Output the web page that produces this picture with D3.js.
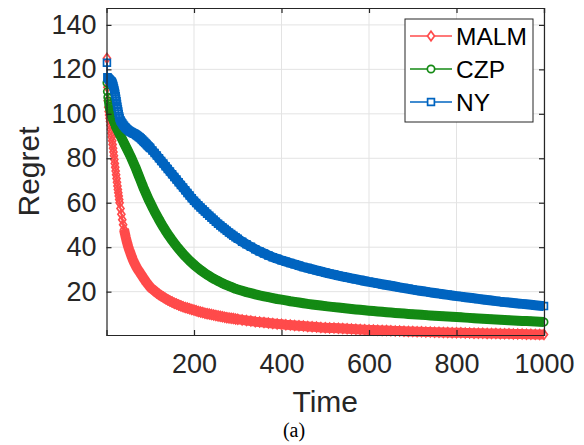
<!DOCTYPE html>
<html><head><meta charset="utf-8">
<script src="https://cdn.jsdelivr.net/npm/d3@7"></script>
<style>body{margin:0;background:#fff}svg{display:block}text{font-family:"Liberation Sans",Arial,sans-serif;fill:#262626}</style>
</head><body><svg id="c" width="584" height="445"></svg>
<script>
const time = [1,2,3,4,5,6,7,8,9,10,11,12,13,14,15,16,17,18,19,20,21,22,23,24,25,26,27,28,29,30,
32,34,36,38,40,42,44,46,48,50,52,54,56,58,60,62,64,66,68,70,72,74,76,78,80,82,84,86,88,90,92,94,96,98,100,
105,110,115,120,125,130,135,140,145,150,155,160,165,170,175,180,185,190,195,200,205,210,215,220,225,230,235,240,245,250,255,260,265,270,275,280,285,290,295,300,
310,320,330,340,350,360,370,380,390,400,410,420,430,440,450,460,470,480,490,500,510,520,530,540,550,560,570,580,590,600,610,620,630,640,650,660,670,680,690,700,710,720,730,740,750,760,770,780,790,800,810,820,830,840,850,860,870,880,890,900,910,920,930,940,950,960,970,980,990,1000];

const malm = [125,112,106,103,101,99.5,98,96.5,94.8,93,91.3,89.6,87.9,86.2,84.5,82.8,81.1,79.4,77.7,76,74.3,72.6,70.9,69.2,67.5,66,64.5,63,61.5,60,
57.4,54.8,52.4,50.1,48,46.2,44.4,42.8,41.3,40,38.8,37.7,36.6,35.5,34.5,33.6,32.8,32,31.2,30.5,29.9,29.3,28.7,28.1,27.5,26.9,26.3,25.7,25.1,24.5,24,23.5,23,22.5,22,
21.1,20.3,19.5,18.8,18.1,17.5,16.9,16.3,15.8,15.3,14.8,14.4,14,13.6,13.2,12.9,12.6,12.3,12,11.7,11.4,11.1,10.8,10.6,10.3,10.1,9.9,9.7,9.5,9.3,9.1,8.9,8.7,8.5,8.3,8.2,8,7.9,7.7,7.6,
7.3,7.0,6.8,6.5,6.3,6.1,5.9,5.7,5.5,5.3,5.1,4.95,4.8,4.65,4.5,4.35,4.2,4.05,3.9,3.8,3.7,3.6,3.5,3.4,3.3,3.2,3.1,3.0,2.9,2.8,2.72,2.64,2.56,2.48,2.4,2.33,2.26,2.19,2.12,2.05,1.99,1.93,1.87,1.81,1.75,1.7,1.65,1.6,1.55,1.5,1.46,1.42,1.38,1.34,1.3,1.26,1.22,1.18,1.14,1.1,1.06,1.02,0.98,0.94,0.9,0.86,0.82,0.78,0.74,0.7];

const czp = [114,110,107.5,105.8,104.5,103.4,102.4,101.5,100.7,100,99.3,98.7,98.1,97.6,97.1,96.6,96.1,95.7,95.3,94.9,94.5,94.1,93.7,93.3,92.9,92.5,92.1,91.7,91.3,90.9,
90.1,89.3,88.5,87.7,86.9,86.1,85.3,84.5,83.7,82.9,82.1,81.3,80.5,79.6,78.7,77.8,76.9,76,75,74,73,72,71,70,69,68,67,66.1,65.2,64.3,63.4,62.5,61.6,60.8,60,
58,56,54.2,52.4,50.7,49,47.4,45.9,44.5,43.1,41.8,40.5,39.3,38.1,37,35.9,34.9,33.9,33,32.1,31.3,30.5,29.7,29,28.3,27.6,27,26.4,25.8,25.3,24.8,24.3,23.8,23.3,22.9,22.5,22.1,21.7,21.3,21,
20.4,19.8,19.3,18.8,18.3,17.9,17.5,17.1,16.7,16.4,16.05,15.7,15.4,15.1,14.8,14.5,14.25,14,13.75,13.5,13.27,13.05,12.83,12.62,12.41,12.21,12.01,11.82,11.63,11.45,11.27,11.1,10.93,10.76,10.6,10.44,10.29,10.14,9.99,9.85,9.71,9.57,9.44,9.31,9.18,9.05,8.93,8.81,8.69,8.57,8.44,8.32,8.2,8.08,7.96,7.84,7.72,7.61,7.5,7.39,7.28,7.17,7.06,6.95,6.85,6.75,6.65,6.55,6.45,6.35];

const ny = [123,116.5,116.2,116,115.7,115.5,115.3,115.1,114.9,114.7,114.5,114.3,114,113.5,113,112.3,111.5,110.7,109.9,109,107.9,106.8,105.6,104.4,103.2,102.1,101,99.9,98.9,98.1,
97,96.3,95.7,95.1,94.6,94.1,93.7,93.3,92.9,92.6,92.3,92,91.8,91.6,91.4,91.2,91,90.8,90.5,90.2,89.9,89.6,89.3,89,88.6,88.2,87.8,87.4,87,86.6,86.2,85.8,85.4,85,84.6,
83.5,82.4,81.2,80,78.8,77.6,76.4,75.2,74,72.8,71.6,70.4,69.2,68,66.8,65.6,64.4,63.2,62,60.9,59.9,58.9,57.9,57,56,55.1,54.2,53.3,52.4,51.5,50.6,49.8,49,48.2,47.4,46.6,45.9,45.2,44.5,43.8,
42.5,41.3,40.2,39.1,38.1,37.2,36.3,35.5,34.8,34.1,33.5,32.9,32.3,31.7,31.1,30.6,30.1,29.6,29.1,28.6,28.1,27.7,27.2,26.8,26.4,26,25.6,25.2,24.8,24.4,24.05,23.7,23.35,23,22.65,22.3,21.95,21.6,21.25,20.9,20.6,20.3,20,19.7,19.4,19.12,18.84,18.56,18.28,18,17.75,17.5,17.25,17,16.75,16.5,16.25,16,15.75,15.5,15.3,15.1,14.9,14.7,14.5,14.3,14.1,13.9,13.7,13.5];

const seriesNames = ["MALM","CZP","NY"];
const seriesColors = ["#ff4b4b","#148a14","#0064c0"];
const seriesMarkers = ["diamond","circle","square"];
const bandFrom = [40,20,30];   // time from which the overlapping markers form a solid band
const xTicks = [200,400,600,800,1000];
const yTicks = [20,40,60,80,100,120,140];
const xLabel = "Time", yLabel = "Regret", caption = "(a)";

const svg = d3.select("#c");
const L=106.5, R=544, T=8, B=335;
const x = d3.scaleLinear().domain([0,1000]).range([L,R]);
const y = d3.scaleLinear().domain([0.5,147.6]).range([B,T]);

// grid
const g = svg.append("g");
g.selectAll(".gx").data(xTicks).join("line").attr("x1",d=>x(d)).attr("x2",d=>x(d)).attr("y1",T).attr("y2",B).attr("stroke","#e3e3e3").attr("stroke-width",1);
g.selectAll(".gy").data(yTicks).join("line").attr("y1",d=>y(d)).attr("y2",d=>y(d)).attr("x1",L).attr("x2",R).attr("stroke","#e3e3e3").attr("stroke-width",1);

function markerPath(type){
  if(type==="diamond") return "M0,-4.8L3.5,0L0,4.8L-3.5,0Z";
  if(type==="square") return "M-3.4,-3.4H3.4V3.4H-3.4Z";
  return d3.symbol().type(d3.symbolCircle).size(42)();
}

const data = [malm, czp, ny];
const plot = svg.append("g");
const line = d3.line().x(d=>x(d[0])).y(d=>y(d[1]));
data.forEach((vals,i)=>{
  const pts = time.map((t,j)=>[t,vals[j]]);
  plot.append("path").attr("d", line(pts))
    .attr("fill","none").attr("stroke",seriesColors[i]).attr("stroke-width",1.6);
  plot.append("path").attr("d", line(pts.filter(d=>d[0]>=bandFrom[i])))
    .attr("fill","none").attr("stroke",seriesColors[i]).attr("stroke-width",10)
    .attr("stroke-linejoin","round").attr("stroke-linecap","butt");
  plot.append("g").selectAll("path").data(pts).join("path")
    .attr("transform",d=>`translate(${x(d[0])},${y(d[1])})`)
    .attr("d",markerPath(seriesMarkers[i]))
    .attr("fill","none").attr("stroke",seriesColors[i]).attr("stroke-width",1.7);
});

// axes box and ticks
const ax = svg.append("g");
const axB = ax.append("g").attr("transform",`translate(0,${B})`).call(d3.axisBottom(x).tickValues(xTicks).tickSize(-5).tickPadding(19).tickFormat(d3.format("d")));
const axT = ax.append("g").attr("transform",`translate(0,${T})`).call(d3.axisTop(x).tickValues(xTicks).tickSize(-5).tickFormat(""));
const axL = ax.append("g").attr("transform",`translate(${L},0)`).call(d3.axisLeft(y).tickValues(yTicks).tickSize(-5).tickPadding(10));
const axR = ax.append("g").attr("transform",`translate(${R},0)`).call(d3.axisRight(y).tickValues(yTicks).tickSize(-5).tickFormat(""));
[axB,axT,axL,axR].forEach(a=>{
  a.select(".domain").attr("stroke","#262626").attr("stroke-width",1.2);
  a.selectAll(".tick line").attr("stroke","#262626").attr("stroke-width",1.2);
  a.selectAll(".tick text").attr("font-size",27).attr("font-family","Liberation Sans, Arial, sans-serif").attr("fill","#262626");
});

svg.append("text").attr("x",(L+R)/2).attr("y",412).attr("text-anchor","middle").attr("font-size",30).text(xLabel);
svg.append("text").attr("transform",`translate(39,${(T+B)/2}) rotate(-90)`).attr("text-anchor","middle").attr("font-size",30).text(yLabel);
svg.append("text").attr("x",294).attr("y",437).attr("text-anchor","middle").attr("font-size",20).style("font-family","Liberation Serif, Times New Roman, serif").style("fill","#000").text(caption);

// legend
const lg = svg.append("g");
lg.append("rect").attr("x",405).attr("y",19).attr("width",128).attr("height",103).attr("fill","#fff").attr("stroke","#262626").attr("stroke-width",1);
const ly = [36,69,102];
seriesNames.forEach((n,i)=>{
  lg.append("line").attr("x1",410).attr("x2",452).attr("y1",ly[i]).attr("y2",ly[i]).attr("stroke",seriesColors[i]).attr("stroke-width",1.6);
  lg.append("path").attr("transform",`translate(431,${ly[i]})`).attr("d",markerPath(seriesMarkers[i])).attr("fill","#fff").attr("stroke",seriesColors[i]).attr("stroke-width",1.7);
  lg.append("text").attr("x",456).attr("y",ly[i]+9).attr("font-size",24.5).style("fill","#000").text(n);
});
</script></body></html>
